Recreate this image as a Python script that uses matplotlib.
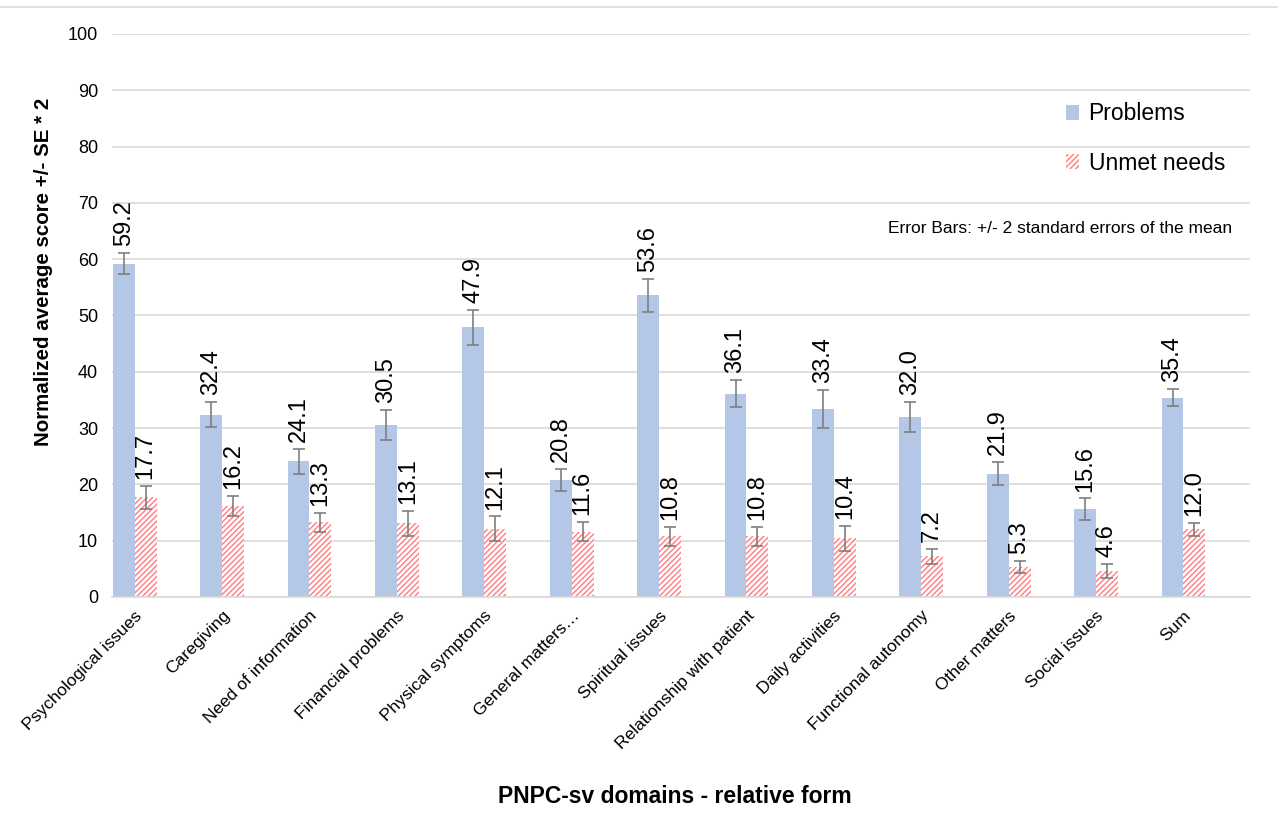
import matplotlib.pyplot as plt
import numpy as np
import matplotlib as mpl
from matplotlib.patches import Patch
from matplotlib.lines import Line2D

# 数据
domains = ["Psychological issues", "Caregiving", "Need of information", "Financial problems",
           "Physical symptoms", "General matters\u2026", "Spiritual issues",
           "Relationship with patient", "Daily activities", "Functional autonomy",
           "Other matters", "Social issues", "Sum"]
problems = [59.2, 32.4, 24.1, 30.5, 47.9, 20.8, 53.6, 36.1, 33.4, 32.0, 21.9, 15.6, 35.4]
problems_err = [1.9, 2.2, 2.2, 2.7, 3.1, 2.0, 2.9, 2.4, 3.3, 2.7, 2.0, 1.9, 1.5]
unmet = [17.7, 16.2, 13.3, 13.1, 12.1, 11.6, 10.8, 10.8, 10.4, 7.2, 5.3, 4.6, 12.0]
unmet_err = [2.0, 1.8, 1.7, 2.2, 2.2, 1.7, 1.7, 1.7, 2.2, 1.3, 1.1, 1.2, 1.2]

BLUE = '#b4c7e7'
RED = '#ff7c80'
GRID = '#d9d9d9'
ERR = '#7f7f7f'
BAR_W = 0.25

mpl.rcParams['font.family'] = ['Liberation Sans', 'DejaVu Sans']
mpl.rcParams['hatch.linewidth'] = 1.0
mpl.rcParams['hatch.color'] = RED

fig = plt.figure(figsize=(12.78, 8.17), dpi=100)
ax = fig.add_axes([0.0876, 0.2693, 0.8904, 0.6891])

x = np.arange(len(domains))
ax.bar(x - BAR_W / 2, problems, BAR_W, color=BLUE, zorder=2)
ax.bar(x + BAR_W / 2, unmet, BAR_W, color='white', edgecolor=RED, hatch='//////',
       linewidth=0, zorder=2)

err_kw = dict(fmt='none', ecolor=ERR, elinewidth=1.2, capsize=4, capthick=1.2, zorder=3)
ax.errorbar(x - BAR_W / 2, problems, yerr=problems_err, **err_kw)
ax.errorbar(x + BAR_W / 2, unmet, yerr=unmet_err, **err_kw)

# 数值标签
for xi, v, e in zip(x - BAR_W / 2, problems, problems_err):
    ax.annotate(f'{v:.1f}', (xi, v + e), xytext=(0, 5), textcoords='offset points',
                rotation=90, ha='center', va='bottom', fontsize=17)
for xi, v, e in zip(x + BAR_W / 2, unmet, unmet_err):
    ax.annotate(f'{v:.1f}', (xi, v + e), xytext=(0, 5), textcoords='offset points',
                rotation=90, ha='center', va='bottom', fontsize=17)

ax.set_ylim(0, 100)
ax.set_xlim(-0.26, 12.76)
ax.set_yticks(np.arange(0, 101, 10))
ax.yaxis.grid(True, color=GRID, linewidth=1.2)
ax.set_axisbelow(True)
for s in ['top', 'right', 'left']:
    ax.spines[s].set_visible(False)
ax.spines['bottom'].set_color(GRID)
ax.spines['bottom'].set_linewidth(1.2)
ax.tick_params(axis='both', length=0, labelsize=13)
ax.tick_params(axis='y', pad=10)
ax.set_xticks(x)
ax.set_xticklabels(domains, rotation=45, ha='right', rotation_mode='anchor', fontsize=12.5)
ax.tick_params(axis='x', pad=8)

ax.set_ylabel('Normalized average score +/- SE * 2', fontsize=14.8, fontweight='bold')
ax.yaxis.set_label_coords(-0.052, 0.577)
fig.text(0.528, 0.025, 'PNPC-sv domains - relative form', ha='center', va='center',
         fontsize=16.5, fontweight='bold')

ax.text(0.984, 0.655, 'Error Bars: +/- 2 standard errors of the mean', transform=ax.transAxes,
        ha='right', va='center', fontsize=12.5)

handles = [Patch(facecolor=BLUE, edgecolor='none'),
           Patch(facecolor='white', edgecolor=RED, hatch='//////', linewidth=0)]
ax.legend(handles, ['Problems', 'Unmet needs'], loc='upper left', bbox_to_anchor=(0.82, 0.915),
          frameon=False, fontsize=16.5, labelspacing=1.15, handlelength=0.6, handleheight=0.6,
          handletextpad=0.4)

# 顶部细线
fig.add_artist(Line2D([0, 1], [1 - 7 / 817, 1 - 7 / 817], transform=fig.transFigure,
                      color=GRID, linewidth=1.2))

fig.savefig('out.png', dpi=100)
